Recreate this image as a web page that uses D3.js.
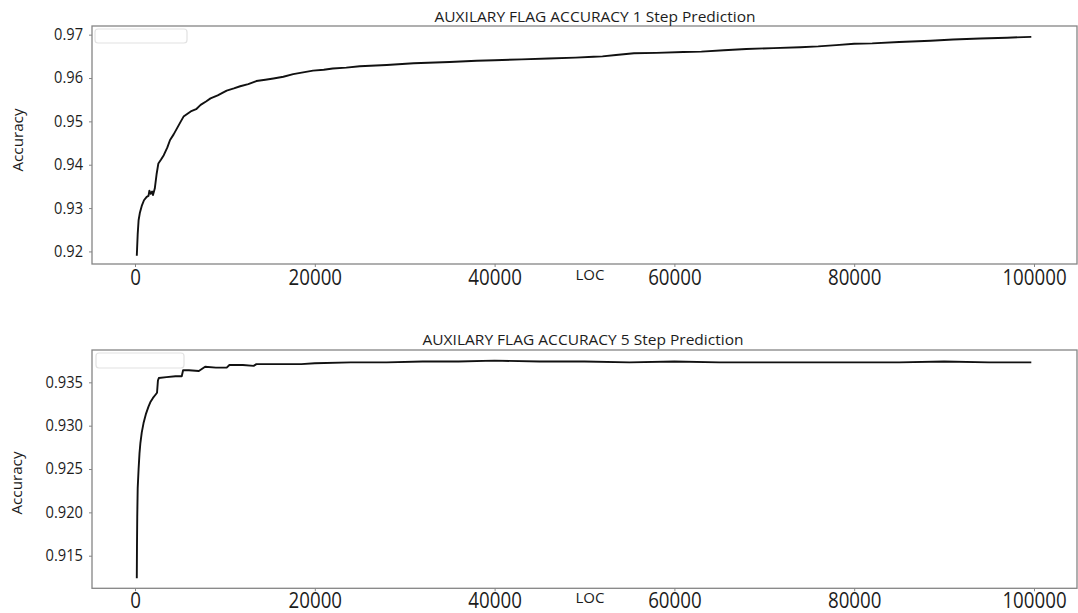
<!DOCTYPE html>
<html>
<head>
<meta charset="utf-8">
<script src="https://cdn.jsdelivr.net/npm/d3@7"></script>
<style>
  html, body { margin: 0; padding: 0; background: #fff; }
  svg { display: block; font-family: "Open Sans", "Noto Sans", sans-serif; }
</style>
</head>
<body>
<svg id="chart" width="1078" height="613"></svg>
<script>
// LOC positions and accuracy for the 1-step prediction run
const loc1 = [200, 230, 300, 400, 550, 750, 1000, 1300, 1500, 1600, 1750, 1900, 2000, 2200, 2400, 2600, 2900, 3200, 3600, 3900, 4300, 4700, 5100, 5400, 5800, 6200, 6800, 7300, 7900, 8400, 9200, 10200, 11000, 11700, 12600, 13500, 14500, 15400, 16500, 17600, 18700, 19800, 21000, 22000, 23500, 25000, 28000, 31000, 35000, 38000, 40000, 43000, 46000, 49000, 51000, 52000, 53500, 55500, 58000, 61000, 63000, 65500, 68000, 71000, 74000, 76000, 78000, 80000, 82000, 85000, 88500, 91000, 94000, 97000, 99700];
const acc1 = [0.9190, 0.9205, 0.9240, 0.9272, 0.9290, 0.9305, 0.9318, 0.9326, 0.9328, 0.9340, 0.9333, 0.9338, 0.9330, 0.9345, 0.9378, 0.9403, 0.9412, 0.9422, 0.9440, 0.9457, 0.9470, 0.9485, 0.9500, 0.9511, 0.9517, 0.9523, 0.9528, 0.9538, 0.9546, 0.9553, 0.9560, 0.9571, 0.9576, 0.9581, 0.9586, 0.9593, 0.9596, 0.9599, 0.9603, 0.9609, 0.9613, 0.9617, 0.9619, 0.9622, 0.9624, 0.9627, 0.9630, 0.9634, 0.9637, 0.9640, 0.9641, 0.9643, 0.9645, 0.9647, 0.9649, 0.9650, 0.9653, 0.9657, 0.9658, 0.9660, 0.9661, 0.9664, 0.9667, 0.9669, 0.9671, 0.9673, 0.9676, 0.9679, 0.9680, 0.9683, 0.9686, 0.9689, 0.9691, 0.9693, 0.9695];

// LOC positions and accuracy for the 5-step prediction run
const loc5 = [200, 220, 250, 300, 400, 500, 600, 750, 950, 1200, 1500, 1700, 2000, 2300, 2450, 2550, 2650, 3500, 4500, 5200, 5350, 6000, 7100, 7800, 9000, 10200, 10500, 12000, 13200, 13500, 16000, 18500, 20000, 24000, 28000, 32000, 36000, 40000, 45000, 50000, 55000, 60000, 65000, 70000, 75000, 80000, 85000, 90000, 95000, 99700];
const acc5 = [0.9124, 0.9160, 0.9195, 0.9228, 0.9250, 0.9268, 0.9280, 0.9292, 0.9303, 0.9313, 0.9322, 0.9327, 0.9332, 0.9336, 0.9338, 0.9352, 0.9355, 0.9356, 0.9357, 0.9357, 0.9364, 0.9364, 0.9363, 0.9368, 0.9367, 0.9367, 0.9370, 0.9370, 0.9369, 0.9371, 0.9371, 0.9371, 0.9372, 0.9373, 0.9373, 0.9374, 0.9374, 0.9375, 0.9374, 0.9374, 0.9373, 0.9374, 0.9373, 0.9373, 0.9373, 0.9373, 0.9373, 0.9374, 0.9373, 0.9373];

// Axis ticks
const xTicks = [0, 20000, 40000, 60000, 80000, 100000];
const yTicks1 = [0.92, 0.93, 0.94, 0.95, 0.96, 0.97];
const yTicks5 = [0.915, 0.920, 0.925, 0.930, 0.935];

const titles = ["AUXILARY FLAG ACCURACY 1 Step Prediction", "AUXILARY FLAG ACCURACY 5 Step Prediction"];

const svg = d3.select("#chart");
const frameColor = "#858585";
const textColor = "#1c1c1c";

const x = d3.scaleLinear().domain([-4783, 104783]).range([92, 1077]);

const panels = [
  { loc: loc1, acc: acc1, ticks: yTicks1, fmt: d3.format(".2f"),
    y: d3.scaleLinear().domain([0.9171, 0.9720]).range([264, 26]),
    title: titles[0], titleX: 595, titleY: 21.5, locY: 280, tickY: 285,
    ylabX: 23, ylabY: 140, legend: [95, 29, 92, 14] },
  { loc: loc5, acc: acc5, ticks: yTicks5, fmt: d3.format(".3f"),
    y: d3.scaleLinear().domain([0.91124, 0.93873]).range([588.3, 350]),
    title: titles[1], titleX: 583, titleY: 345, locY: 603, tickY: 608,
    ylabX: 21.5, ylabY: 483, legend: [96, 353, 88, 15] }
];

panels.forEach(p => {
  const g = svg.append("g");
  const [y0, y1] = p.y.range();

  // faint empty legend box
  g.append("rect")
    .attr("x", p.legend[0]).attr("y", p.legend[1])
    .attr("width", p.legend[2]).attr("height", p.legend[3])
    .attr("rx", 3)
    .attr("fill", "#fff").attr("stroke", "#e2e2e2").attr("stroke-width", 1.2);

  // data line
  const pts = p.loc.map((d, i) => [d, p.acc[i]]);
  g.append("path")
    .datum(pts)
    .attr("fill", "none")
    .attr("stroke", "#111")
    .attr("stroke-width", 1.9)
    .attr("stroke-linejoin", "round")
    .attr("d", d3.line().x(d => x(d[0])).y(d => p.y(d[1])));

  // frame
  g.append("rect")
    .attr("x", x.range()[0]).attr("y", y1)
    .attr("width", x.range()[1] - x.range()[0]).attr("height", y0 - y1)
    .attr("fill", "none").attr("stroke", frameColor).attr("stroke-width", 1.3);

  // y axis
  const yAxis = g.append("g")
    .attr("transform", `translate(${x.range()[0]},0)`)
    .call(d3.axisLeft(p.y).tickValues(p.ticks).tickFormat(p.fmt).tickSize(3).tickPadding(6));
  yAxis.select(".domain").remove();
  yAxis.selectAll(".tick line").attr("stroke", frameColor);
  yAxis.selectAll(".tick text")
    .attr("fill", textColor)
    .style("font-size", "15.5px")
    .style("font-family", "'Open Sans', sans-serif")
    .attr("textLength", function () {
      const s = this.textContent;
      return (s.length - 1) * 8.5 + 3.4;
    })
    .attr("lengthAdjust", "spacingAndGlyphs");

  // x axis
  const xAxis = g.append("g")
    .attr("transform", `translate(0,${y0})`)
    .call(d3.axisBottom(x).tickValues(xTicks).tickFormat(d3.format("d")).tickSize(3).tickPadding(0));
  xAxis.select(".domain").remove();
  xAxis.selectAll(".tick line").attr("stroke", frameColor);
  xAxis.selectAll(".tick text")
    .attr("fill", textColor)
    .attr("dy", null)
    .attr("y", p.tickY - y0)
    .style("font-size", "21px")
    .style("font-family", "'Open Sans', sans-serif")
    .attr("textLength", function () { return this.textContent.length * 10.7; })
    .attr("lengthAdjust", "spacingAndGlyphs");

  // title
  g.append("text")
    .attr("x", p.titleX).attr("y", p.titleY)
    .attr("text-anchor", "middle")
    .attr("fill", textColor)
    .style("font-size", "14.5px")
    .attr("textLength", 321)
    .attr("lengthAdjust", "spacingAndGlyphs")
    .text(p.title);

  // x label
  g.append("text")
    .attr("x", 590).attr("y", p.locY)
    .attr("text-anchor", "middle")
    .attr("fill", textColor)
    .style("font-size", "14.5px")
    .attr("textLength", 29)
    .attr("lengthAdjust", "spacingAndGlyphs")
    .text("LOC");

  // y label
  g.append("text")
    .attr("transform", `translate(${p.ylabX},${p.ylabY}) rotate(-90)`)
    .attr("text-anchor", "middle")
    .attr("fill", textColor)
    .style("font-size", "15px")
    .attr("textLength", 63)
    .attr("lengthAdjust", "spacingAndGlyphs")
    .text("Accuracy");
});
</script>
</body>
</html>
